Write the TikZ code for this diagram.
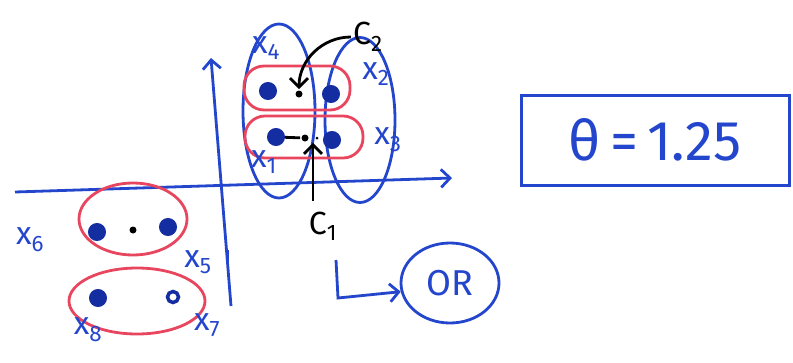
\documentclass[tikz,border=0pt]{standalone}
\usepackage{fontspec}
\setmainfont{Fira Sans}
\usetikzlibrary{arrows.meta,positioning,calc,shapes.geometric}
\definecolor{penblue}{RGB}{35,70,205}
\definecolor{dotblue}{RGB}{20,45,160}
\definecolor{penred}{RGB}{232,70,95}
\begin{document}
\begin{tikzpicture}[>={Straight Barb[length=9pt,width=18pt]},x=1pt,y=-1pt,
 line width=2.8pt,
 pt/.style={circle,fill=dotblue,draw=dotblue,line width=2pt,inner sep=0pt,minimum size=16pt},
 hollow/.style={circle,fill=white,draw=dotblue,line width=3.5pt,inner sep=0pt,minimum size=11pt},
 ctr/.style={circle,fill=black,inner sep=0pt,minimum size=7pt},
 grp/.style={draw=penred,rounded corners=20pt,inner sep=0pt},
 clus/.style={draw=penblue,ellipse,inner sep=0pt},
 lab/.style={text=penblue,font=\fontsize{32}{34}\selectfont,inner sep=1pt},
 clab/.style={text=black,font=\fontsize{32}{34}\selectfont,inner sep=1pt}]
\useasboundingbox (0,0) rectangle (793,362);
% axes
\coordinate (xs) at (15,192);
\coordinate (xe) at (452,178);
\coordinate (ys) at (231,306);
\coordinate (ye) at (211,58);
\draw[penblue,->] (xs) -- (xe);
\draw[penblue,->] (ys) -- (ye);
\draw[penblue] (228,250) -- (228,262);
% first cluster pair (upper right)
\node[clus,minimum width=72pt,minimum height=174pt] (cl1) at (279,111) {};
\node[clus,minimum width=70pt,minimum height=165pt] (cl2) at (360,120) {};
\node[grp,minimum width=106pt,minimum height=44pt] (g1) at (297,88) {};
\node[grp,minimum width=118pt,minimum height=42pt] (g2) at (304,137) {};
\node[pt] (x4) at (268,91) {};
\node[pt] (x2) at (331,94) {};
\node[pt] (x1) at (276,137) {};
\node[pt] (x3) at (332,140) {};
\node[ctr] (m2) at (299,94) {};
\node[ctr] (m1) at (305,138) {};
\node[ctr,minimum size=3pt] (m1b) at (317,138) {};
\draw[black] (x1) -- (m1);
\node[lab] (l4) at (266,48) {x\textsubscript{4}};
\node[lab] (l2) at (376,74) {x\textsubscript{2}};
\node[lab] (l3) at (388,140) {x\textsubscript{3}};
\node[lab] (l1) at (264,162) {x\textsubscript{1}};
\node[clab] (c2) at (368,37) {C\textsubscript{2}};
\node[clab] (c1) at (323,226) {C\textsubscript{1}};
\draw[black,->] (c2.west) to[out=180,in=90] (m2.north);
\draw[black,->] (c1.north) ++(-10,-8) coordinate (c1a) (c1a) -- (m1.south -| c1a);
% second cluster pair (lower left)
\node[grp,ellipse,minimum width=108pt,minimum height=72pt] (g3) at (133,219) {};
\node[grp,ellipse,minimum width=136pt,minimum height=66pt] (g4) at (137,301) {};
\node[pt] (x6) at (97,232) {};
\node[ctr] (m3) at (133,230) {};
\node[pt] (x5) at (168,227) {};
\node[pt] (x8) at (98,298) {};
\node[hollow] (x7) at (173,297) {};
\node[lab] (l6) at (30,240) {x\textsubscript{6}};
\node[lab] (l5) at (198,262) {x\textsubscript{5}};
\node[lab] (l8) at (88,330) {x\textsubscript{8}};
\node[lab] (l7) at (207,325) {x\textsubscript{7}};
% or
\node[draw=penblue,ellipse,minimum width=98pt,minimum height=80pt,lab,font=\fontsize{36}{38}\selectfont] (or) at (450,283) {OR};
\coordinate (hk) at (336,260);
\draw[penblue,->] (hk) -- (338,298) -- (or.190);
% result
\node[draw=penblue,line width=3pt,minimum width=268pt,minimum height=90pt,text=penblue,
 font=\fontsize{56}{58}\selectfont] (res) at (655,140) {θ\,=\,1.25};
\end{tikzpicture}
\end{document}
